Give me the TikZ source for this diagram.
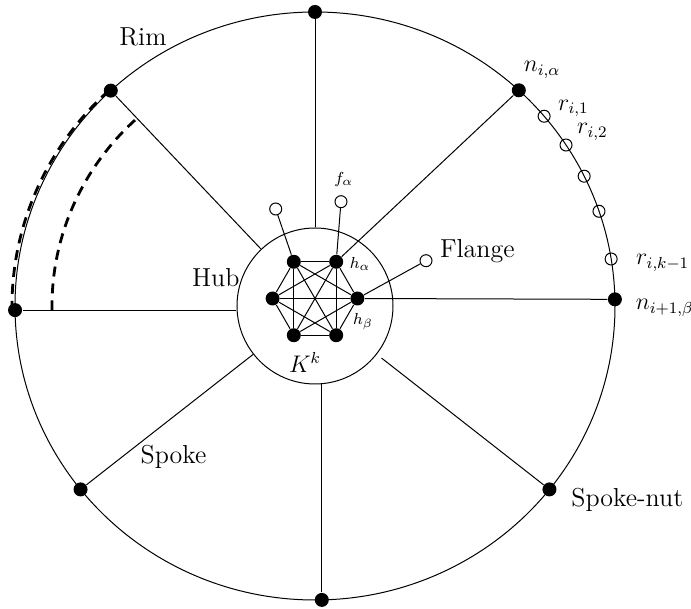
\documentclass[tikz,border=0pt]{standalone}
\usepackage{amsmath}
\usepackage{tikz}
\usetikzlibrary{positioning}

\begin{document}
\begin{tikzpicture}[
    x=0.5pt, y=0.5pt,
    line width=0.5pt,
    dot/.style={circle, fill=black, inner sep=0pt, minimum size=7pt},
    hollow/.style={circle, draw=black, inner sep=0pt, minimum size=6pt},
    hubdisc/.style={circle, draw=black, inner sep=0pt, minimum size=78pt},
    wordlabel/.style={font=\fontsize{13}{15}\selectfont, inner sep=0pt},
    mathlabel/.style={font=\large, inner sep=0pt},
    tinylabel/.style={font=\fontsize{8.5}{10}\selectfont, inner sep=0pt},
    trail/.style={dash pattern=on 5pt off 3.5pt, line width=1.4pt}
]
\useasboundingbox (-315,-303) rectangle (376,306);

% rim
\draw (0,0) ellipse [x radius=300, y radius=294];
\draw [trail] (132.9:303 and 294) arc [start angle=132.9, end angle=181, x radius=303, y radius=294];
\draw [trail] (133.2:263 and 255) arc [start angle=133.2, end angle=181, x radius=263, y radius=255];

\node (hub) [hubdisc] at (0,0) {};

\node (nt)  [dot] at (90:300 and 294) {};
\node (ntr) [dot] at (47.2:300 and 294) {};
\node (nr)  [dot] at (1.3:300 and 294) {};
\node (nbr) [dot] at (321.4:300 and 294) {};
\node (nb)  [dot] at (271.3:300 and 294) {};
\node (nbl) [dot] at (218.6:300 and 294) {};
\node (nl)  [dot] at (180.8:300 and 294) {};
\node (ntl) [dot] at (132.9:300 and 294) {};

\foreach \a [count=\i] in {40.2,33.2,26.2,18.8,9.2}
    \node (r\i) [hollow] at (\a:300 and 294) {};

% hub graph
\foreach \a [count=\i] in {0,60,...,300}
    \node (h\i) [dot] at ([shift={(0,7.5)}]\a:42.4) {};
\foreach \i in {1,...,5} {
    \pgfmathtruncatemacro\k{\i+1}
    \foreach \j in {\k,...,6}
        \draw (h\i) -- (h\j);
}

\node (pl) [hollow] at (-39.3,97) {};
\node (fa) [hollow] at (26,104.3) {};
\node (fl) [hollow] at (111,45.3) {};
\draw (h3) -- (pl);
\draw (h2) -- (fa);
\draw (h1) -- (fl);

% spokes
\draw (nt) -- (hub);
\draw (ntl) -- (hub);
\draw (nbl) -- (hub);
\draw [shorten >=3pt] (nbr) -- (hub);
\draw (nb) -- (nb |- hub.south);
\draw (nl) -- (nl -| hub.west);
\draw (ntr) -- (h2);
\draw (h1) -- (nr);

% labels
\node (lrim)   [wordlabel] at (-172,269) {Rim};
\node (lhub)   [wordlabel, anchor=east] at (-75,28) {Hub};
\node (lspoke) [wordlabel] at (-141.5,-151) {Spoke};
\node (lnut)   [wordlabel, right=7pt of nbr, yshift=-5pt] {Spoke-nut};
\node (lfl)    [wordlabel, right=3.5pt of fl, yshift=4.6pt] {Flange};
\node (lkk)    [mathlabel] at (-10,-56.5) {$K^k$};
\node (lha)    [tinylabel, right=2.8pt of h2, yshift=-1pt] {$h_\alpha$};
\node (lhb)    [tinylabel] at (48,-15.5) {$h_\beta$};
\node (lfa)    [tinylabel] at (28.7,126) {$f_\alpha$};
\node (lna)    [mathlabel] at (227,236) {$n_{i,\alpha}$};
\node (lr1)    [mathlabel, right=3.5pt of r1, yshift=4pt] {$r_{i,1}$};
\node (lr2)    [mathlabel, right=2pt of r2, yshift=6.5pt] {$r_{i,2}$};
\node (lrk)    [mathlabel, right=9pt of r5, yshift=-2pt] {$r_{i,k-1}$};
\node (lnb)    [mathlabel, right=6.5pt of nr, yshift=-4.3pt] {$n_{i+1,\beta}$};

\end{tikzpicture}
\end{document}
